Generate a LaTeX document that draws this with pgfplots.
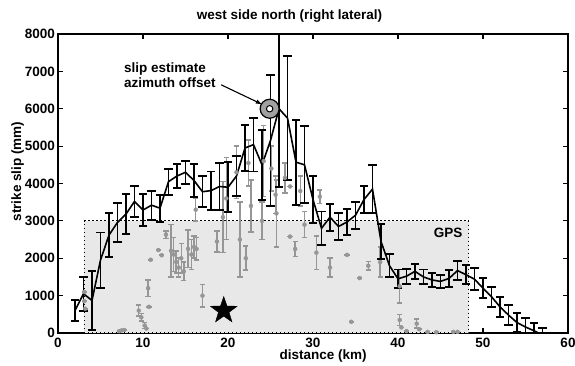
\documentclass[border=0pt]{standalone}
\usepackage{fontspec}
\setmainfont{Liberation Sans}
\usepackage{pgfplots}
\pgfplotsset{compat=1.18}
\usepackage{pgfplotstable}
\definecolor{boxfill}{RGB}{232,232,232}
\definecolor{gpt}{RGB}{150,150,150}
\definecolor{circfill}{RGB}{160,160,160}
\newcommand{\lbl}{\fontsize{13.5}{15.5}\selectfont\bfseries}

\pgfdeclareplotmark{fstar}{%
  \pgfpathmoveto{\pgfpointpolar{90}{\pgfplotmarksize}}%
  \pgfpathlineto{\pgfpointpolar{126}{0.40\pgfplotmarksize}}%
  \pgfpathlineto{\pgfpointpolar{162}{\pgfplotmarksize}}%
  \pgfpathlineto{\pgfpointpolar{198}{0.40\pgfplotmarksize}}%
  \pgfpathlineto{\pgfpointpolar{234}{\pgfplotmarksize}}%
  \pgfpathlineto{\pgfpointpolar{270}{0.40\pgfplotmarksize}}%
  \pgfpathlineto{\pgfpointpolar{306}{\pgfplotmarksize}}%
  \pgfpathlineto{\pgfpointpolar{342}{0.40\pgfplotmarksize}}%
  \pgfpathlineto{\pgfpointpolar{18}{\pgfplotmarksize}}%
  \pgfpathlineto{\pgfpointpolar{54}{0.40\pgfplotmarksize}}%
  \pgfpathclose
  \pgfusepathqfillstroke
}
\pgfdeclareplotmark{vcapthick}{%
  \pgfpathrectangle{\pgfpoint{-0.95pt}{-\pgfplotmarksize}}{\pgfpoint{1.9pt}{2\pgfplotmarksize}}%
  \pgfusepathqfill
}
\pgfdeclareplotmark{vcapthin}{%
  \pgfpathrectangle{\pgfpoint{-0.8pt}{-\pgfplotmarksize}}{\pgfpoint{1.6pt}{2\pgfplotmarksize}}%
  \pgfusepathqfill
}

\pgfplotstableread{
x y e
2 600 290
3 1050 450
4 870 790
5 1950 740
6 2620 580
7 2960 520
8 3180 530
9 3520 420
10 3290 420
11 3420 390
12 3340 360
13 4050 350
14 4200 320
15 4300 310
16 4080 440
17 3780 420
18 3810 510
19 3920 620
20 3900 670
21 4200 540
22 4950 620
23 5040 720
24 4500 940
25 5150 1750
26 6000 2100
27 5750 1650
28 4570 1140
29 4500 1030
30 3570 620
31 2800 450
32 3100 360
33 2850 360
34 2970 340
35 3150 360
36 3570 360
37 3850 650
38 2450 470
39 1800 310
40 1450 250
41 1520 200
42 1650 200
43 1500 200
44 1420 180
45 1380 180
46 1460 220
47 1670 250
48 1560 260
49 1440 290
50 1200 270
51 970 270
52 700 270
53 480 270
54 280 250
55 160 230
56 60 200
57 -50 180
}\slipdata

\pgfplotstableread{
x y e
3.1 1100 0
3.1 850 0
3.2 650 0
7.2 50 0
7.5 70 0
7.8 80 0
9.5 600 150
9.8 420 100
10.2 200 80
10.4 120 0
10.6 1200 220
10.7 700 0
10.9 1960 0
11.8 2220 0
12.2 2080 0
12.7 2630 100
13.3 2200 700
13.6 2100 450
13.9 1900 300
14.2 1750 250
14.5 2000 400
14.8 1650 250
15.3 2250 500
15.7 2100 400
16.0 2300 300
16.2 3300 300
16.3 2250 300
17.0 1000 300
18.7 2450 280
19.4 3100 950
19.8 3600 1100
21.0 4300 700
21.4 2500 1000
22.1 2000 320
22.4 4550 620
22.7 3400 700
24.0 3000 500
24.2 4600 950
25.1 4400 600
25.6 3700 500
25.7 3200 900
26.7 4150 400
27.3 3920 0
27.3 2580 0
27.9 2250 200
28.5 3800 400
29.0 2900 350
30.4 2150 450
30.8 3650 180
32.0 1750 250
34.0 2090 0
34.5 300 0
35.5 1470 0
36.5 1800 110
37.9 1900 400
40.2 1250 450
40.2 350 150
40.4 150 0
41.0 50 0
42.2 250 120
42.5 100 0
43.5 30 0
44.5 20 0
46.5 30 0
47.0 30 0
}\gpsdata

\begin{document}
\lbl
\begin{tikzpicture}
\begin{axis}[
  name=ax,
  scale only axis,
  width=510pt, height=299pt,
  xmin=0, xmax=60, ymin=0, ymax=8000,
  xtick={0,10,...,60},
  ytick={0,1000,...,8000},
  /pgf/number format/1000 sep={},
  /pgf/number format/assume math mode=true,
  tick align=inside,
  major tick length=5pt,
  axis line style={line width=1.1pt},
  every tick/.style={line width=1.1pt, black},
  tick label style={font=\lbl},
  xticklabel style={anchor=base, yshift=-14pt, inner sep=0pt},
  yticklabel style={anchor=east, inner sep=0pt, xshift=-3pt},
  title={west side north (right lateral)},
  title style={at={(axis description cs:0.454,1)}, anchor=base, yshift=9pt, inner sep=0pt, font=\lbl},
  xlabel={distance (km)},
  xlabel style={at={(axis description cs:0.52,0)}, anchor=base, yshift=-26pt, inner sep=0pt, font=\lbl},
  ylabel={strike slip (mm)},
  ylabel style={at={(axis description cs:-0.0725,0.54)}, anchor=base, inner sep=0pt, font=\lbl},
]
% GPS box
\addplot[fill=boxfill, draw=black, line width=1.2pt, dash pattern=on 1.4pt off 2.6pt]
  coordinates {(3.1,0) (3.1,3000) (48.3,3000) (48.3,0)} -- cycle;
\node[anchor=base east, inner sep=0pt, font=\lbl] at (axis cs:47.6,2550) {GPS};

% grey points
\addplot[only marks, mark=*, mark size=2pt, color=gpt,
  error bars/.cd, y dir=both, y explicit, error mark=vcapthin,
  error bar style={line width=1.4pt, gpt},
  error mark options={mark size=2.6pt, fill=gpt, draw=none}]
  table[x=x, y=y, y error=e] {\gpsdata};

% black slip profile
\addplot[black, line width=1.6pt, mark=none,
  error bars/.cd, y dir=both, y explicit, error mark=vcapthick,
  error bar style={line width=1.5pt, black},
  error mark options={mark size=4.2pt, fill=black, draw=none}]
  table[x=x, y=y, y error=e] {\slipdata};

% star
\addplot[only marks, mark=fstar, mark size=14pt, fill=black, draw=black] coordinates {(19.5,600)};

% azimuth offset circle
\addplot[only marks, mark=*, mark size=9.5pt, mark options={fill=circfill, draw=black, line width=1.2pt}] coordinates {(24.9,6000)};
\addplot[only marks, mark=*, mark size=3.2pt, mark options={fill=white, draw=black, line width=1pt}] coordinates {(24.9,6000)};

\node[anchor=base west, inner sep=0pt, font=\lbl] at (axis cs:7.76,6983) {slip estimate};
\node[anchor=base west, inner sep=0pt, font=\lbl] at (axis cs:7.76,6580) {azimuth offset};
\draw[-latex, line width=1.1pt] (axis cs:19.2,6640) -- (axis cs:24.0,6120);
\end{axis}
\pgfresetboundingbox
\useasboundingbox ([xshift=-58pt,yshift=-32pt]ax.south west) rectangle ([xshift=7pt,yshift=34pt]ax.north east);
\end{tikzpicture}
\end{document}
